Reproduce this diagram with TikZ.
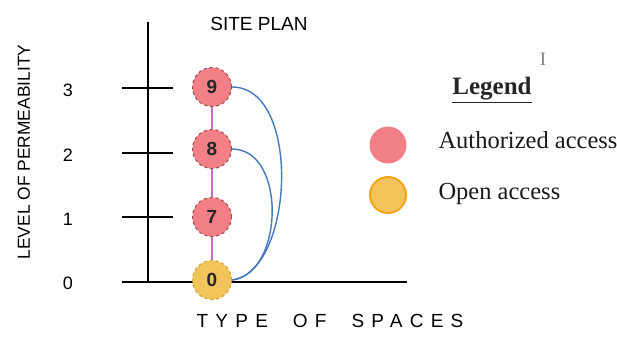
\documentclass[tikz,border=0pt]{standalone}
\usepackage{fontspec}
\setmainfont{Liberation Serif}
\newfontfamily\arialf{Liberation Sans}
\definecolor{pinkfill}{RGB}{242,128,134}
\definecolor{pinkedge}{RGB}{165,75,85}
\definecolor{yelfill}{RGB}{242,196,92}
\definecolor{yeledge}{RGB}{212,165,35}
\definecolor{legyeledge}{RGB}{240,165,25}
\definecolor{linkcol}{RGB}{200,110,200}
\definecolor{arccol}{RGB}{70,120,190}
\tikzset{
  axisline/.style={line width=2.2pt, black},
  spacenode/.style={circle, minimum size=39pt, inner sep=0pt, line width=1.1pt, dashed,
     font=\arialf\bfseries\fontsize{19}{19}\selectfont, text=black!85},
  authnode/.style={spacenode, fill=pinkfill, draw=pinkedge},
  opennode/.style={spacenode, fill=yelfill, draw=yeledge},
  linkline/.style={draw=linkcol, line width=2.2pt},
  arcline/.style={draw=arccol, line width=1.4pt},
  lvl/.style={font=\arialf\fontsize{18}{18}\selectfont},
  legtext/.style={anchor=base west, font=\fontsize{24.5}{24.5}\selectfont, text=black!90}
}
\begin{document}
\begin{tikzpicture}[x=1pt,y=-1pt]
\useasboundingbox (0,0) rectangle (617,338);
% axes
\draw[axisline] (148,22) -- (148,283);
\draw[axisline] (122,282) -- (407,282);
\draw[axisline] (122,88) -- (173,88);
\draw[axisline] (122,153) -- (173,153);
\draw[axisline] (122,217) -- (173,217);
% level numbers
\node[lvl] (l3) at (68,90) {3};
\node[lvl] (l2) at (68,155) {2};
\node[lvl] (l1) at (68,219) {1};
\node[lvl] (l0) at (68,283) {0};
\node[rotate=90, font=\arialf\fontsize{17.4}{17.4}\selectfont] (ylab) at (24,152) {LEVEL OF PERMEABILITY};
\node[font=\arialf\fontsize{19}{19}\selectfont] (title) at (259,24) {SITE PLAN};
\node[font=\arialf\fontsize{19}{19}\selectfont\addfontfeatures{LetterSpace=38}] (xlab) at (330,321) {TYPE\ \ OF\ \ SPACES};
% space nodes
\node[authnode] (n9) at (212,87) {9};
\node[authnode] (n8) at (212,149) {8};
\node[authnode] (n7) at (212,217) {7};
\node[opennode] (n0) at (212,280) {0};
\draw[linkline] (n9) -- (n8);
\draw[linkline] (n8) -- (n7);
\draw[linkline] (n7) -- (n0);
\draw[arcline] (n9.east) .. controls +(70,0) and +(62,-8) .. (n0.east);
\draw[arcline] (n8.east) .. controls +(55,0) and +(52,-6) .. (n0.east);
% legend
\node[font=\bfseries\fontsize{25}{25}\selectfont, text=black!85] (legtitle) at (492,90) {\underline{Legend}};
\node[circle, minimum size=37pt, inner sep=0pt, fill=pinkfill] (legauth) at (388,145) {};
\node[circle, minimum size=36pt, inner sep=0pt, fill=yelfill, draw=legyeledge, line width=2pt] (legopen) at (388,195) {};
\node[legtext] (tauth) at (435,148) {Authorized access};
\node[legtext] (topen) at (435,199) {Open access};
\node[font=\fontsize{19}{19}\selectfont, text=black!50] (cursor) at (543,59) {I};
\end{tikzpicture}
\end{document}
